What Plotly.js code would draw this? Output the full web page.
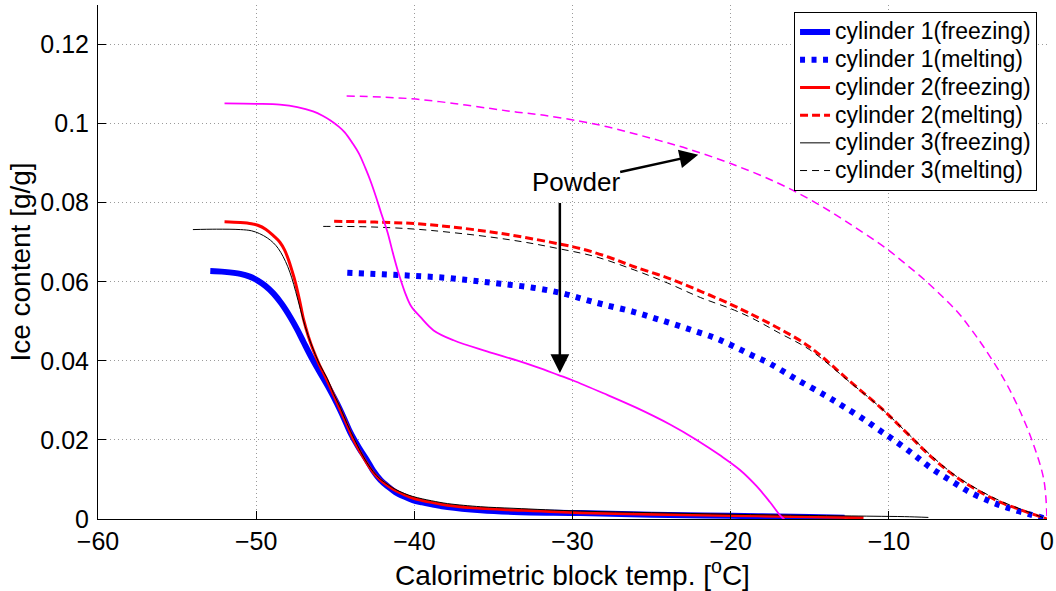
<!DOCTYPE html>
<html>
<head>
<meta charset="utf-8">
<script src="https://cdn.plot.ly/plotly-3.0.1.min.js"></script>
<style>
  html, body { margin: 0; padding: 0; background: #ffffff; }
  #chart { width: 1056px; height: 591px; }
</style>
</head>
<body>
<div id="chart"></div>
<script>
// ---------- data ----------
const seriesNames = [
  'cylinder 1(freezing)', 'cylinder 1(melting)',
  'cylinder 2(freezing)', 'cylinder 2(melting)',
  'cylinder 3(freezing)', 'cylinder 3(melting)'
];

const cyl1FreezeX = [-52.9, -52.0, -51.0, -50.4, -49.9, -49.4, -48.9, -48.4, -47.85, -47.4, -47.0, -46.5, -45.95, -45.4, -44.9, -44.45, -44.05, -43.5, -43.0, -42.6, -42.15, -41.6, -41.2, -40.6, -40.1, -39.5, -38.9, -37.9, -35.8, -33.7, -29.5, -25, -20, -15, -12.8];
const cyl1FreezeY = [0.0627, 0.0625, 0.0620, 0.0613, 0.0603, 0.0589, 0.0570, 0.0545, 0.0511, 0.0479, 0.0447, 0.0408, 0.0369, 0.0331, 0.0293, 0.0255, 0.0219, 0.0180, 0.0149, 0.0122, 0.0099, 0.0080, 0.0068, 0.0056, 0.0048, 0.0042, 0.0037, 0.0030, 0.0022, 0.0018, 0.0015, 0.0011, 0.0008, 0.0005, 0.0003];

const cyl1MeltX = [-44.24, -42, -40.06, -38, -36.3, -34.56, -32.5, -30.76, -29.3, -28, -26.15, -24.5, -22.78, -21, -19.83, -18.7, -17.52, -15.83, -14, -12.85, -11.5, -10.5, -9.87, -8.5, -7.34, -6, -4.8, -3.5, -2.47, -1.2, 0];
const cyl1MeltY = [0.0623, 0.0619, 0.0615, 0.0610, 0.0603, 0.0595, 0.0585, 0.0572, 0.0556, 0.0542, 0.0524, 0.0504, 0.0482, 0.0458, 0.0437, 0.0415, 0.0393, 0.0353, 0.0312, 0.0284, 0.0250, 0.0222, 0.0205, 0.0165, 0.0129, 0.0095, 0.0066, 0.0043, 0.0028, 0.0013, 0];

const cyl2FreezeX = [-52.0, -51.0, -50.3, -49.9, -49.4, -48.9, -48.5, -48.2, -47.96, -47.75, -47.53, -47.25, -47.0, -46.7, -46.4, -46.0, -45.53, -45.1, -44.68, -44.25, -43.84, -43.4, -43.0, -42.6, -42.15, -41.6, -41.2, -40.6, -40.1, -39.5, -38.9, -37.9, -35.8, -33.7, -29.5, -25, -20, -15, -11.6];
const cyl2FreezeY = [0.0752, 0.0750, 0.0747, 0.0743, 0.0733, 0.0716, 0.0700, 0.0680, 0.0656, 0.0630, 0.0600, 0.0552, 0.0504, 0.0462, 0.0428, 0.0390, 0.0352, 0.0314, 0.0276, 0.0238, 0.0200, 0.0168, 0.0141, 0.0118, 0.0099, 0.0082, 0.0072, 0.0061, 0.0053, 0.0047, 0.0042, 0.0035, 0.0027, 0.0023, 0.0016, 0.0012, 0.0009, 0.0006, 0.0003];

const cyl2MeltX = [-45.07, -42.5, -39.9, -37.5, -35.16, -33, -30.88, -29.3, -27.7, -26.1, -24, -21.9, -20, -18.9, -17, -15, -12.4, -10.5, -9, -7.34, -5.8, -4.2, -2.8, -1.65, -0.8, 0];
const cyl2MeltY = [0.0753, 0.0751, 0.0747, 0.0738, 0.0726, 0.0712, 0.0696, 0.0682, 0.0662, 0.0638, 0.0610, 0.0576, 0.0543, 0.0522, 0.0483, 0.0435, 0.0346, 0.0281, 0.0223, 0.0158, 0.0108, 0.0068, 0.0040, 0.0023, 0.0011, 0];

const cyl3FreezeX = [-54.0, -52.5, -51.0, -50.3, -49.8, -49.3, -48.9, -48.6, -48.3, -48.0, -47.75, -47.5, -47.2, -46.9, -46.5, -46.0, -45.5, -45.1, -44.65, -44.25, -43.8, -43.4, -43.0, -42.6, -42.15, -41.6, -41.2, -40.6, -40.1, -39.5, -38.9, -37.9, -35.8, -33.7, -29.5, -25, -20, -15, -11, -9, -7.5];
const cyl3FreezeY = [0.0732, 0.0733, 0.0732, 0.0729, 0.0722, 0.0711, 0.0698, 0.0684, 0.0664, 0.0638, 0.0610, 0.0575, 0.0530, 0.0487, 0.0440, 0.0392, 0.0355, 0.0317, 0.0279, 0.0241, 0.0203, 0.0171, 0.0143, 0.0120, 0.0101, 0.0085, 0.0075, 0.0064, 0.0057, 0.0051, 0.0046, 0.0039, 0.0031, 0.0027, 0.0020, 0.0016, 0.0012, 0.0009, 0.0007, 0.0006, 0.0004];

const cyl3MeltX = [-45.76, -43, -39.9, -37.5, -35.16, -33, -30.9, -28.6, -26.1, -24, -21.9, -20, -18.7, -17, -15, -12.4, -10.5, -9, -7.34, -5.8, -4.2, -2.8, -1.65, -0.8, 0];
const cyl3MeltY = [0.0740, 0.0739, 0.0733, 0.0724, 0.0713, 0.0700, 0.0684, 0.0664, 0.0630, 0.0597, 0.0560, 0.0532, 0.0509, 0.0472, 0.0428, 0.0344, 0.0281, 0.0224, 0.0161, 0.0110, 0.0071, 0.0043, 0.0025, 0.0012, 0];

const powderFreezeX = [-52.0, -50.0, -48.5, -47.4, -46.4, -45.8, -45.3, -44.8, -44.4, -43.9, -43.5, -43.1, -42.8, -42.4, -42.1, -41.7, -41.35, -41.0, -40.6, -40.2, -39.62, -38.78, -37.52, -35.41, -33.52, -32.25, -30.88, -30.0, -28.04, -25.94, -23.83, -22.15, -20.67, -19.41, -18.36, -17.52, -16.78, -16.6];
const powderFreezeY = [0.1051, 0.1050, 0.1048, 0.1042, 0.1031, 0.1020, 0.1008, 0.0993, 0.0978, 0.0950, 0.0924, 0.0888, 0.0858, 0.0812, 0.0774, 0.0726, 0.0672, 0.0622, 0.0574, 0.0538, 0.0511, 0.0477, 0.0452, 0.0424, 0.0401, 0.0384, 0.0364, 0.0351, 0.0318, 0.0281, 0.0239, 0.0200, 0.0161, 0.0124, 0.0083, 0.0043, 0.0005, 0];

const powderMeltX = [-44.28, -42, -39.9, -37.5, -35.16, -33.5, -31.78, -29.53, -27.8, -26.15, -24.5, -22.77, -20.0, -17.14, -14.89, -12.64, -10.16, -9.0, -7.8, -6.6, -5.6, -4.8, -4.0, -2.7, -1.65, -0.8, -0.2, 0];
const powderMeltY = [0.1070, 0.1067, 0.1062, 0.1051, 0.1038, 0.1029, 0.1021, 0.1006, 0.0992, 0.0975, 0.0957, 0.0937, 0.0899, 0.0852, 0.0806, 0.0751, 0.0684, 0.0647, 0.0607, 0.0562, 0.0521, 0.0480, 0.0435, 0.0352, 0.0268, 0.0182, 0.0099, 0];

const annotationText = 'Powder';
const powderLabel = [-29.8, 0.0853];
const arrowToMeltHead = [-22.05, 0.0921];
const arrowToFreeze = { tail: [-30.80, 0.0803], head: [-30.80, 0.0369] };

const xTitle = 'Calorimetric block temp. [<sup>o</sup>C]';
const yTitle = 'Ice content [g/g]';

// ---------- traces ----------
const FONT = '"Liberation Sans", Arial, Helvetica, sans-serif';
const legendLabel = s => '<span style="font-size:23px">' + s + '</span>';
const SM = { shape: 'spline', smoothing: 1.0 };
const traces = [
  { x: cyl1FreezeX, y: cyl1FreezeY, name: legendLabel(seriesNames[0]), line: { color: '#0000ff', width: 6 } },
  { x: cyl1MeltX, y: cyl1MeltY, name: legendLabel(seriesNames[1]), line: { color: '#0000ff', width: 6, dash: '5px,6.5px' } },
  { x: cyl2FreezeX, y: cyl2FreezeY, name: legendLabel(seriesNames[2]), line: { color: '#ff0000', width: 3 } },
  { x: cyl2MeltX, y: cyl2MeltY, name: legendLabel(seriesNames[3]), line: { color: '#ff0000', width: 3, dash: '8px,4px' } },
  { x: cyl3FreezeX, y: cyl3FreezeY, name: legendLabel(seriesNames[4]), line: { color: '#000000', width: 1 } },
  { x: cyl3MeltX, y: cyl3MeltY, name: legendLabel(seriesNames[5]), line: { color: '#000000', width: 1, dash: '7px,5px' } },
  { x: powderFreezeX, y: powderFreezeY, showlegend: false, line: { color: '#ff00ff', width: 1.8 } },
  { x: powderMeltX, y: powderMeltY, showlegend: false, line: { color: '#ff00ff', width: 1.5, dash: '8px,5px' } }
].map(t => Object.assign({ type: 'scatter', mode: 'lines', hoverinfo: 'skip' }, t, { line: Object.assign({}, SM, t.line) }));

const axisCommon = {
  showline: true, linecolor: '#000', linewidth: 1,
  ticks: 'inside', ticklen: 8, tickcolor: '#000', tickwidth: 1,
  showgrid: true, gridcolor: '#9a9a9a', gridwidth: 1, griddash: '1px,3px',
  zeroline: false,
  tickfont: { family: FONT, size: 25, color: '#000' }
};

const layout = {
  width: 1056, height: 591,
  margin: { l: 98, r: 9, t: 5, b: 72 },
  paper_bgcolor: '#fff', plot_bgcolor: '#fff',
  font: { family: FONT, color: '#000' },
  xaxis: Object.assign({}, axisCommon, {
    range: [-60, 0], dtick: 10, tick0: 0,
    ticklabelstandoff: 0,
    title: { text: xTitle, font: { family: FONT, size: 28, color: '#000' }, standoff: 9 }
  }),
  yaxis: Object.assign({}, axisCommon, {
    range: [0, 0.13], dtick: 0.02, tick0: 0,
    ticklabelstandoff: 3,
    title: { text: yTitle, font: { family: FONT, size: 28, color: '#000' }, standoff: 1 }
  }),
  showlegend: true,
  legend: {
    x: 0.9895, xanchor: 'right', y: 0.986, yanchor: 'top',
    bgcolor: '#fff', bordercolor: '#000', borderwidth: 1,
    font: { family: FONT, size: 19, color: '#000' },
    tracegroupgap: 0
  },
  annotations: [
    { x: arrowToMeltHead[0], y: arrowToMeltHead[1], ax: powderLabel[0], ay: powderLabel[1],
      xref: 'x', yref: 'y', axref: 'x', ayref: 'y', text: annotationText, showarrow: true,
      font: { family: FONT, size: 26, color: '#000' }, borderpad: 0,
      arrowhead: 2, arrowsize: 1.5, arrowwidth: 2.5, arrowcolor: '#000', standoff: 0, startstandoff: 0 },
    { x: arrowToFreeze.head[0], y: arrowToFreeze.head[1], ax: arrowToFreeze.tail[0], ay: arrowToFreeze.tail[1],
      xref: 'x', yref: 'y', axref: 'x', ayref: 'y', text: '', showarrow: true,
      arrowhead: 2, arrowsize: 1.5, arrowwidth: 2.5, arrowcolor: '#000', standoff: 0, startstandoff: 0 }
  ]
};

Plotly.newPlot('chart', traces, layout, { staticPlot: true, displayModeBar: false });
</script>
</body>
</html>
